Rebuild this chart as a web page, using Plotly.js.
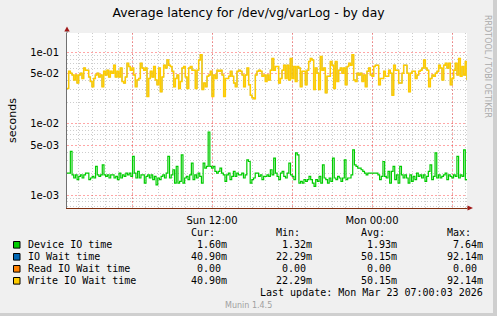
<!DOCTYPE html>
<html><head><meta charset="utf-8">
<script src="https://cdn.plot.ly/plotly-3.0.1.min.js"></script>
<style>html,body{margin:0;padding:0;background:#F0F0F0;}#chart{width:497px;height:316px;}</style>
</head><body><div id="chart"></div>
<script>
// ---- data ----
const chartTitle = 'Average latency for /dev/vg/varLog - by day';
const yTitle = 'seconds';
const seriesNames = ['Device IO time', 'IO Wait time', 'Read IO Wait time', 'Write IO Wait time'];
const seriesColors = ['#00CC00', '#0066B3', '#FF8000', '#FFCC00'];
const rangeStart = '2026-03-22 01:07:30';
const rangeEnd = '2026-03-23 07:07:30';
const xTickVals = ['2026-03-22 06:00', '2026-03-22 12:00', '2026-03-22 18:00', '2026-03-23 00:00', '2026-03-23 06:00'];
const xTickText = ['', 'Sun 12:00', '', 'Mon 00:00', ''];
const yTickVals = [1e-3, 5e-3, 1e-2, 5e-2, 1e-1];
const yTickText = ['1e-03', '5e-03', '1e-02', '5e-02', '1e-01'];
const yMinorVals = [7e-4, 8e-4, 9e-4, 2e-3, 3e-3, 4e-3, 6e-3, 7e-3, 8e-3, 9e-3, 2e-2, 3e-2, 4e-2, 6e-2, 7e-2, 8e-2, 9e-2];

// Device IO time, milliseconds
const deviceIoMs = [
2.03, 2.03, 4.08, 1.92, 1.73, 1.92, 1.64, 1.82, 1.92, 1.73,
1.92, 2.03, 2.03, 1.64, 1.73, 1.82, 1.73, 2.52, 1.92, 1.82,
1.92, 2.65, 1.92, 1.82, 1.92, 1.73, 1.92, 1.92, 1.73, 1.82,
1.64, 2.03, 1.73, 1.92, 1.82, 2.03, 1.92, 2.03, 1.82, 3.47,
2.03, 1.73, 2.14, 1.73, 1.92, 1.92, 1.47, 1.82, 1.92, 1.73,
1.92, 1.64, 1.82, 1.39, 1.73, 1.64, 1.82, 1.92, 1.73, 2.03,
3.47, 1.73, 1.92, 2.26, 1.47, 2.52, 1.47, 1.55, 3.66, 1.47,
1.73, 1.82, 1.64, 1.92, 2.80, 1.64, 1.92, 1.73, 2.03, 1.82,
1.47, 2.80, 2.38, 2.52, 7.64, 2.52, 2.38, 2.52, 2.14, 2.03,
2.14, 2.38, 2.03, 1.92, 1.55, 1.92, 2.03, 1.64, 1.82, 2.14,
1.82, 2.03, 1.92, 1.92, 2.03, 1.73, 1.92, 3.10, 2.95, 1.47,
1.64, 1.73, 2.03, 2.03, 1.82, 1.92, 1.64, 1.82,
1.82, 1.92, 1.82, 2.26, 1.92, 3.29, 2.03, 1.82, 1.64, 2.03,
2.14, 1.82, 1.73, 2.03, 2.80, 1.92, 1.82, 1.64, 3.90, 3.66,
1.47, 1.55, 1.47, 1.64, 1.55, 1.64, 1.82, 1.64, 1.47, 1.32,
1.64, 1.55, 1.82, 1.47, 2.65, 1.73, 1.64, 1.47, 1.73, 1.55,
3.29, 1.73, 1.64, 1.82, 1.73, 1.55, 1.73, 3.10, 1.64, 1.73,
1.73, 1.92, 4.30, 2.65, 2.52, 2.38, 2.38, 2.26, 2.14, 2.03,
1.92, 2.03, 2.03, 2.03, 2.03, 2.03, 2.03, 1.92, 1.64, 1.82,
2.95, 1.82, 1.73, 2.14, 1.47, 2.14, 2.52, 1.64, 1.92, 1.47,
2.52, 1.92, 1.73, 1.92, 1.73, 1.47, 1.92, 1.55, 1.82, 1.64,
2.03, 1.82, 1.92, 1.73, 1.92, 1.55, 1.82, 2.14, 2.65, 1.64,
1.82, 3.90, 1.73, 1.92, 1.73, 1.82, 1.92, 2.03, 1.64, 1.92,
1.82, 1.73, 1.92, 1.82, 3.47, 1.73, 1.92, 1.82, 4.30, 1.64, 1.60];

// Write IO Wait time, milliseconds
const writeWaitMs = [
31, 54, 51, 48, 41, 48, 37, 48, 51, 43,
60, 56, 56, 45, 39, 33, 43, 48, 51, 45,
48, 33, 54, 48, 56, 45, 54, 51, 66, 45,
54, 45, 60, 39, 37, 45, 70, 63, 56, 60,
48, 33, 41, 43, 70, 60, 56, 60, 24, 43,
54, 45, 63, 41, 35, 60, 28, 45, 66, 60,
78, 66, 63, 54, 33, 43, 48, 31, 39, 60,
63, 45, 31, 60, 63, 56, 56, 31, 56, 78,
92, 30, 37, 33, 46, 48, 54, 24, 48, 43,
56, 54, 56, 48, 24, 43, 43, 46, 54, 46,
37, 33, 54, 56, 54, 48, 33, 48, 60, 35,
25, 23, 22.3, 48, 54, 56, 54, 46, 48, 39,
48, 41, 56, 82, 56, 63, 63, 37, 43, 56,
66, 43, 66, 41, 82, 43, 63, 39, 63, 60,
33, 54, 54, 35, 56, 74, 82, 78, 30, 60,
51, 30, 87, 56, 60, 27, 46, 46, 74, 66,
31, 74, 39, 56, 60, 51, 60, 35, 63, 70,
66, 92.14, 41, 39, 51, 48, 51, 39, 48, 33,
54, 60, 48, 46, 63, 66, 66, 35, 43, 43,
54, 46, 46, 56, 51, 25, 66, 56, 56, 37,
37, 51, 66, 66, 51, 28, 51, 54, 54, 43,
48, 54, 56, 60, 78, 60, 56, 33, 43, 48,
46, 51, 54, 66, 60, 41, 66, 70, 60, 70,
35, 43, 56, 70, 48, 82, 46, 63, 48, 74, 40.9];

// IO Wait time equals Write IO Wait time; Read IO Wait time is 0.00 throughout
const ioWaitMs = writeWaitMs;
const readWaitMs = [0, 0];

const statHeaders = ['Cur:', 'Min:', 'Avg:', 'Max:'];
const statValues = [
  ['1.60m', '1.32m', '1.93m', '7.64m'],
  ['40.90m', '22.29m', '50.15m', '92.14m'],
  ['0.00\u00a0', '0.00\u00a0', '0.00\u00a0', '0.00\u00a0'],
  ['40.90m', '22.29m', '50.15m', '92.14m']
];
const lastUpdate = 'Last update: Mon Mar 23 07:00:03 2026';
const munin = 'Munin 1.4.5';
const watermark = 'RRDTOOL / TOBI OETIKER';

// ---- helpers ----
function toMs(s) { return Date.parse(s.replace(' ', 'T') + 'Z'); }
function fmt(ms) { return new Date(ms).toISOString().replace('T', ' ').slice(0, 19); }
function timeGrid(n) {
  const a = toMs(rangeStart), b = toMs(rangeEnd), out = [];
  for (let i = 0; i < n; i++) out.push(fmt(a + (b - a) * i / (n - 1)));
  return out;
}
const sec = arr => arr.map(v => v / 1000);

const W = 497, H = 316, L = 67, R = 30, T = 33, B = 108;
const PW = W - L - R, PH = H - T - B;
const px = x => (x - L) / PW;
const py = y => (H - B - y) / PH;

const lineWidths = [1.2, 0.6, 1, 1.5];
const seriesData = [deviceIoMs, ioWaitMs, readWaitMs, writeWaitMs];
const traces = seriesData.map((d, i) => ({
  x: timeGrid(d.length), y: sec(d), type: 'scatter', mode: 'lines',
  line: {shape: 'hv', width: lineWidths[i], color: seriesColors[i]},
  name: seriesNames[i], hoverinfo: 'skip'
}));

const legendFont = {family: 'DejaVu Sans Mono', size: 10, color: '#000'};
const annotations = [];
const shapes = [];
const colRight = [227.5, 313, 398, 484];
statHeaders.forEach((h, j) => annotations.push({
  xref: 'paper', yref: 'paper', x: px(colRight[j] - 12), y: py(232.5), text: h,
  showarrow: false, xanchor: 'right', yanchor: 'middle', font: legendFont, borderpad: 0
}));
seriesNames.forEach((n, i) => {
  const yc = 244.8 + 12 * i;
  shapes.push({type: 'rect', xref: 'paper', yref: 'paper', x0: px(13.5), x1: px(20), y0: py(yc + 3.3), y1: py(yc - 3.3),
    fillcolor: seriesColors[i], line: {color: '#000', width: 1}});
  annotations.push({xref: 'paper', yref: 'paper', x: px(26.5), y: py(yc), text: n, showarrow: false,
    xanchor: 'left', yanchor: 'middle', font: legendFont, borderpad: 0});
  statValues[i].forEach((v, j) => annotations.push({xref: 'paper', yref: 'paper', x: px(colRight[j]), y: py(yc),
    text: v, showarrow: false, xanchor: 'right', yanchor: 'middle', font: legendFont, borderpad: 0}));
});
annotations.push({xref: 'paper', yref: 'paper', x: px(484), y: py(292.8), text: lastUpdate, showarrow: false,
  xanchor: 'right', yanchor: 'middle', font: legendFont, borderpad: 0});
annotations.push({xref: 'paper', yref: 'paper', x: px(248), y: py(305), text: munin, showarrow: false,
  xanchor: 'center', yanchor: 'middle', font: {family: 'DejaVu Sans', size: 8, color: '#A0A0A0'}, borderpad: 0});
annotations.push({xref: 'paper', yref: 'paper', x: px(488), y: py(66), text: watermark, showarrow: false, textangle: 90,
  xanchor: 'center', yanchor: 'middle', font: {family: 'DejaVu Sans', size: 8, color: '#AAAAAA'}, borderpad: 0});

// arrows and frame
shapes.push({type: 'path', xref: 'paper', yref: 'paper', fillcolor: '#A01818', line: {width: 0},
  path: `M ${px(64.3)} ${py(31.5)} L ${px(67)} ${py(26.5)} L ${px(69.7)} ${py(31.5)} Z`});
shapes.push({type: 'line', xref: 'paper', yref: 'paper', x0: px(67), x1: px(67), y0: py(33), y1: py(31), line: {color: '#707070', width: 1}});
shapes.push({type: 'path', xref: 'paper', yref: 'paper', fillcolor: '#A01818', line: {width: 0},
  path: `M ${px(467.5)} ${py(205.5)} L ${px(473)} ${py(208)} L ${px(467.5)} ${py(210.5)} Z`});
shapes.push({type: 'line', xref: 'paper', yref: 'paper', x0: px(467), x1: px(468), y0: py(208), y1: py(208), line: {color: '#803010', width: 1}});
shapes.push({type: 'rect', xref: 'paper', yref: 'paper', x0: px(493), x1: px(497), y0: py(0), y1: py(316), fillcolor: '#CFCFCF', line: {width: 0}});
shapes.push({type: 'rect', xref: 'paper', yref: 'paper', x0: px(0), x1: px(497), y0: py(313), y1: py(316), fillcolor: '#CFCFCF', line: {width: 0}});

const layout = {
  width: W, height: H, margin: {l: L, r: R, t: T, b: B, pad: 0},
  paper_bgcolor: '#F0F0F0', plot_bgcolor: '#FFFFFF', showlegend: false,
  title: {text: chartTitle, x: 0.5, xanchor: 'center', y: 1 - 13 / H, yanchor: 'middle', yref: 'container',
    font: {family: 'DejaVu Sans', size: 12.4, color: '#000'}},
  xaxis: {type: 'date', range: [rangeStart, rangeEnd], tickmode: 'array', tickvals: xTickVals, ticktext: xTickText,
    showgrid: true, gridcolor: 'rgba(255,0,0,0.35)', griddash: '2px,2px', gridwidth: 1,
    minor: {dtick: 3600000, tick0: '2026-03-22 00:00', showgrid: true, gridcolor: '#CDCDCD', griddash: '1px,2px', gridwidth: 1, ticks: ''},
    showline: true, linecolor: '#803010', linewidth: 1, zeroline: false, ticks: '', ticklabelstandoff: 3,
    tickfont: {family: 'DejaVu Sans', size: 10, color: '#000'}},
  yaxis: {type: 'log', range: [-3.182, -0.73], tickmode: 'array', tickvals: yTickVals, ticktext: yTickText,
    showgrid: true, gridcolor: 'rgba(255,0,0,0.35)', griddash: '2px,2px', gridwidth: 1,
    minor: {tickmode: 'array', tickvals: yMinorVals, showgrid: true, gridcolor: '#CDCDCD', griddash: '1px,2px', gridwidth: 1, ticks: ''},
    showline: true, linecolor: '#707070', linewidth: 1, zeroline: false, ticks: '', ticklabelstandoff: 5,
    tickfont: {family: 'DejaVu Sans', size: 10, color: '#000'},
    title: {text: yTitle, standoff: 11, font: {family: 'DejaVu Sans', size: 11, color: '#000'}}},
  annotations: annotations, shapes: shapes
};

Plotly.newPlot('chart', traces, layout, {staticPlot: true, displayModeBar: false});
</script></body></html>
